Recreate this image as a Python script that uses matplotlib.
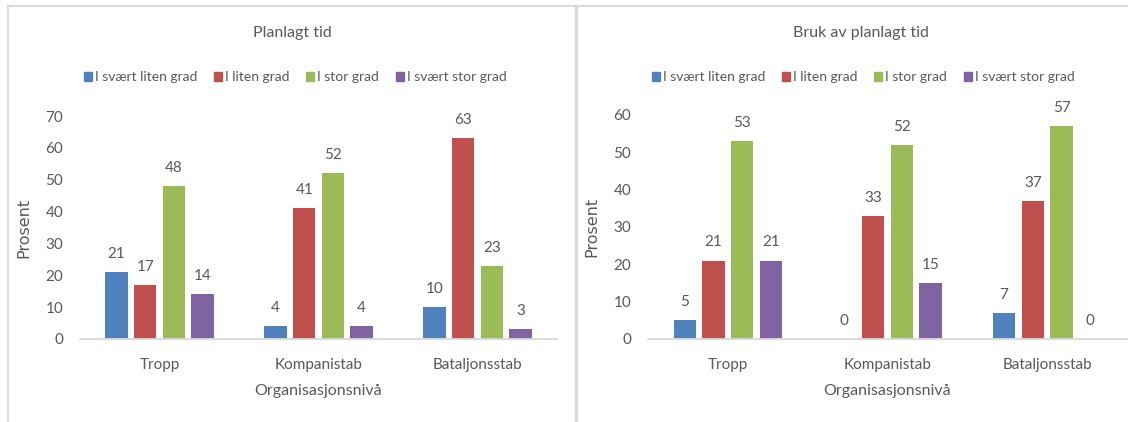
import numpy as np
import matplotlib.pyplot as plt
from matplotlib.lines import Line2D
from matplotlib.patches import Patch

plt.rcParams['font.family'] = ['Lato', 'DejaVu Sans']

categories = ["Tropp", "Kompanistab", "Bataljonsstab"]
series = ["I svært liten grad", "I liten grad", "I stor grad", "I svært stor grad"]

planlagt = [
    [21, 4, 10],   # I svært liten grad
    [17, 41, 63],  # I liten grad
    [48, 52, 23],  # I stor grad
    [14, 4, 3],    # I svært stor grad
]
bruk = [
    [5, 0, 7],
    [21, 33, 37],
    [53, 52, 57],
    [21, 15, 0],
]

colors = ["#4F81BD", "#C0504D", "#9BBB59", "#8064A2"]
text_col = "#595959"
line_col = "#D9D9D9"

W, H = 1135, 422
fig = plt.figure(figsize=(W / 100, H / 100), dpi=100)


def px(x0, y0, x1, y1):
    # pixel box -> figure fraction rect
    return [x0 / W, 1 - y1 / H, (x1 - x0) / W, (y1 - y0) / H]


def panel(rect, data, ymax, title, title_x, legend_x):
    ax = fig.add_axes(rect)
    x = np.arange(len(categories))
    for i, vals in enumerate(data):
        pos = x + (i - 1.5) * 0.18
        bars = ax.bar(pos, vals, width=0.14, color=colors[i], zorder=2)
        for b, v in zip(bars, vals):
            ax.annotate(str(v), (b.get_x() + b.get_width() / 2, v),
                        xytext=(0, 8), textcoords="offset points",
                        ha="center", va="bottom", fontsize=11, color=text_col)
    ax.set_xlim(-0.5, len(categories) - 0.5)
    ax.set_ylim(0, ymax)
    ax.set_yticks(np.arange(0, ymax + 1, 10))
    ax.set_xticks(x)
    ax.set_xticklabels(categories)
    ax.tick_params(length=0, colors=text_col, labelsize=11)
    ax.tick_params(axis="x", pad=14)
    ax.tick_params(axis="y", pad=12)
    for s in ["top", "right", "left"]:
        ax.spines[s].set_visible(False)
    ax.spines["bottom"].set_color(line_col)
    ax.spines["bottom"].set_linewidth(1.3)
    ax.set_xlabel("Organisasjonsnivå", fontsize=11.5, color=text_col, labelpad=8)
    ax.set_ylabel("Prosent", fontsize=11.5, color=text_col, labelpad=10,
                  family="DejaVu Sans")
    fig.text(title_x / W, 1 - 33 / H, title, ha="center", va="center",
             fontsize=11.5, color=text_col)
    handles = [Patch(color=c) for c in colors]
    fig.legend(handles, series, loc="center", ncol=4,
               bbox_to_anchor=(legend_x / W, 1 - 77 / H), frameon=False,
               fontsize=10, labelcolor=text_col, handlelength=0.6,
               handleheight=0.6, handletextpad=0.2, columnspacing=1.2)
    return ax


panel(px(80, 116, 557, 339), planlagt, 70, "Planlagt tid", 292, 295)
panel(px(648, 115, 1127, 339), bruk, 60, "Bruk av planlagt tid", 861, 863)

# outer frame and divider between the two charts
frame = dict(color="#DADADA", transform=fig.transFigure)
fig.add_artist(Line2D([8 / W, 1127 / W], [1 - 6 / H, 1 - 6 / H], lw=1.5, **frame))
fig.add_artist(Line2D([8 / W, 8 / W], [0, 1 - 6 / H], lw=1.5, **frame))
fig.add_artist(Line2D([576 / W, 576 / W], [0, 1 - 6 / H], lw=2.5, **frame))

fig.savefig("out.png", dpi=100)
